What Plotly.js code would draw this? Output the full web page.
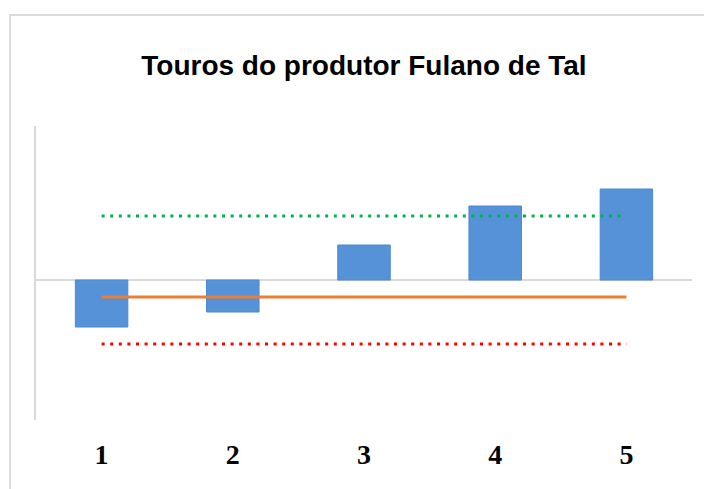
<!DOCTYPE html>
<html>
<head>
<meta charset="utf-8">
<script src="https://cdn.plot.ly/plotly-3.0.1.min.js"></script>
<style>
  html, body { margin: 0; padding: 0; background: #fff; }
  #wrap { position: relative; width: 704px; height: 489px; overflow: hidden; }
  #chart { position: absolute; left: 0; top: 0; width: 704px; height: 489px; }
  #frame { position: absolute; left: 9px; top: 14px; width: 720px; height: 500px;
           border-top: 2px solid #dcdcdc; border-left: 2px solid #dcdcdc; pointer-events: none; }
</style>
</head>
<body>
<div id="wrap">
  <div id="chart"></div>
  <div id="frame"></div>
</div>
<script>
// Data
const categories = [1, 2, 3, 4, 5];
const tickLabels = ["1", "2", "3", "4", "5"];
const barValues = [-4.7, -3.2, 3.5, 7.4, 9.1];
const upperLimit = [6.4, 6.4, 6.4, 6.4, 6.4];
const meanLine = [-1.7, -1.7, -1.7, -1.7, -1.7];
const lowerLimit = [-6.4, -6.4, -6.4, -6.4, -6.4];
const chartTitle = "Touros do produtor Fulano de Tal";

const traces = [
  {
    type: "bar", x: categories, y: barValues,
    marker: { color: "#5592d8", line: { color: "#4a88d0", width: 1 } },
    hoverinfo: "skip", showlegend: false
  },
  {
    type: "scatter", mode: "lines", x: categories, y: upperLimit,
    line: { color: "#00b050", width: 3.2, dash: "3px,5.6px" },
    hoverinfo: "skip", showlegend: false
  },
  {
    type: "scatter", mode: "lines", x: categories, y: lowerLimit,
    line: { color: "#ff0000", width: 3.2, dash: "3px,5.6px" },
    hoverinfo: "skip", showlegend: false
  },
  {
    type: "scatter", mode: "lines", x: categories, y: meanLine,
    line: { color: "#ed7d31", width: 3 },
    hoverinfo: "skip", showlegend: false
  }
];

const layout = {
  width: 704, height: 489,
  margin: { l: 36, r: 12, t: 126, b: 69, pad: 0 },
  paper_bgcolor: "#ffffff", plot_bgcolor: "#ffffff",
  bargap: 0.6,
  title: {
    text: "<b>" + chartTitle + "</b>",
    x: 0.517, xanchor: "center",
    y: 1 - 65 / 489, yanchor: "middle", yref: "container",
    font: { family: "Liberation Sans, Arial, sans-serif", size: 28, color: "#000000" }
  },
  xaxis: {
    type: "linear", range: [0.5, 5.5],
    tickmode: "array", tickvals: categories, ticktext: tickLabels.map(t => "<b>" + t + "</b>"),
    showline: false, showgrid: false, zeroline: false, ticks: "",
    ticklabelstandoff: 15,
    tickfont: { family: "Liberation Serif, Times New Roman, serif", size: 28, color: "#000000" }
  },
  yaxis: {
    range: [-14, 15.4],
    showline: true, linecolor: "#d9d9d9", linewidth: 2,
    showgrid: false, showticklabels: false, ticks: "",
    zeroline: true, zerolinecolor: "#d9d9d9", zerolinewidth: 2
  }
};

Plotly.newPlot("chart", traces, layout, { displayModeBar: false, staticPlot: true });
</script>
</body>
</html>
